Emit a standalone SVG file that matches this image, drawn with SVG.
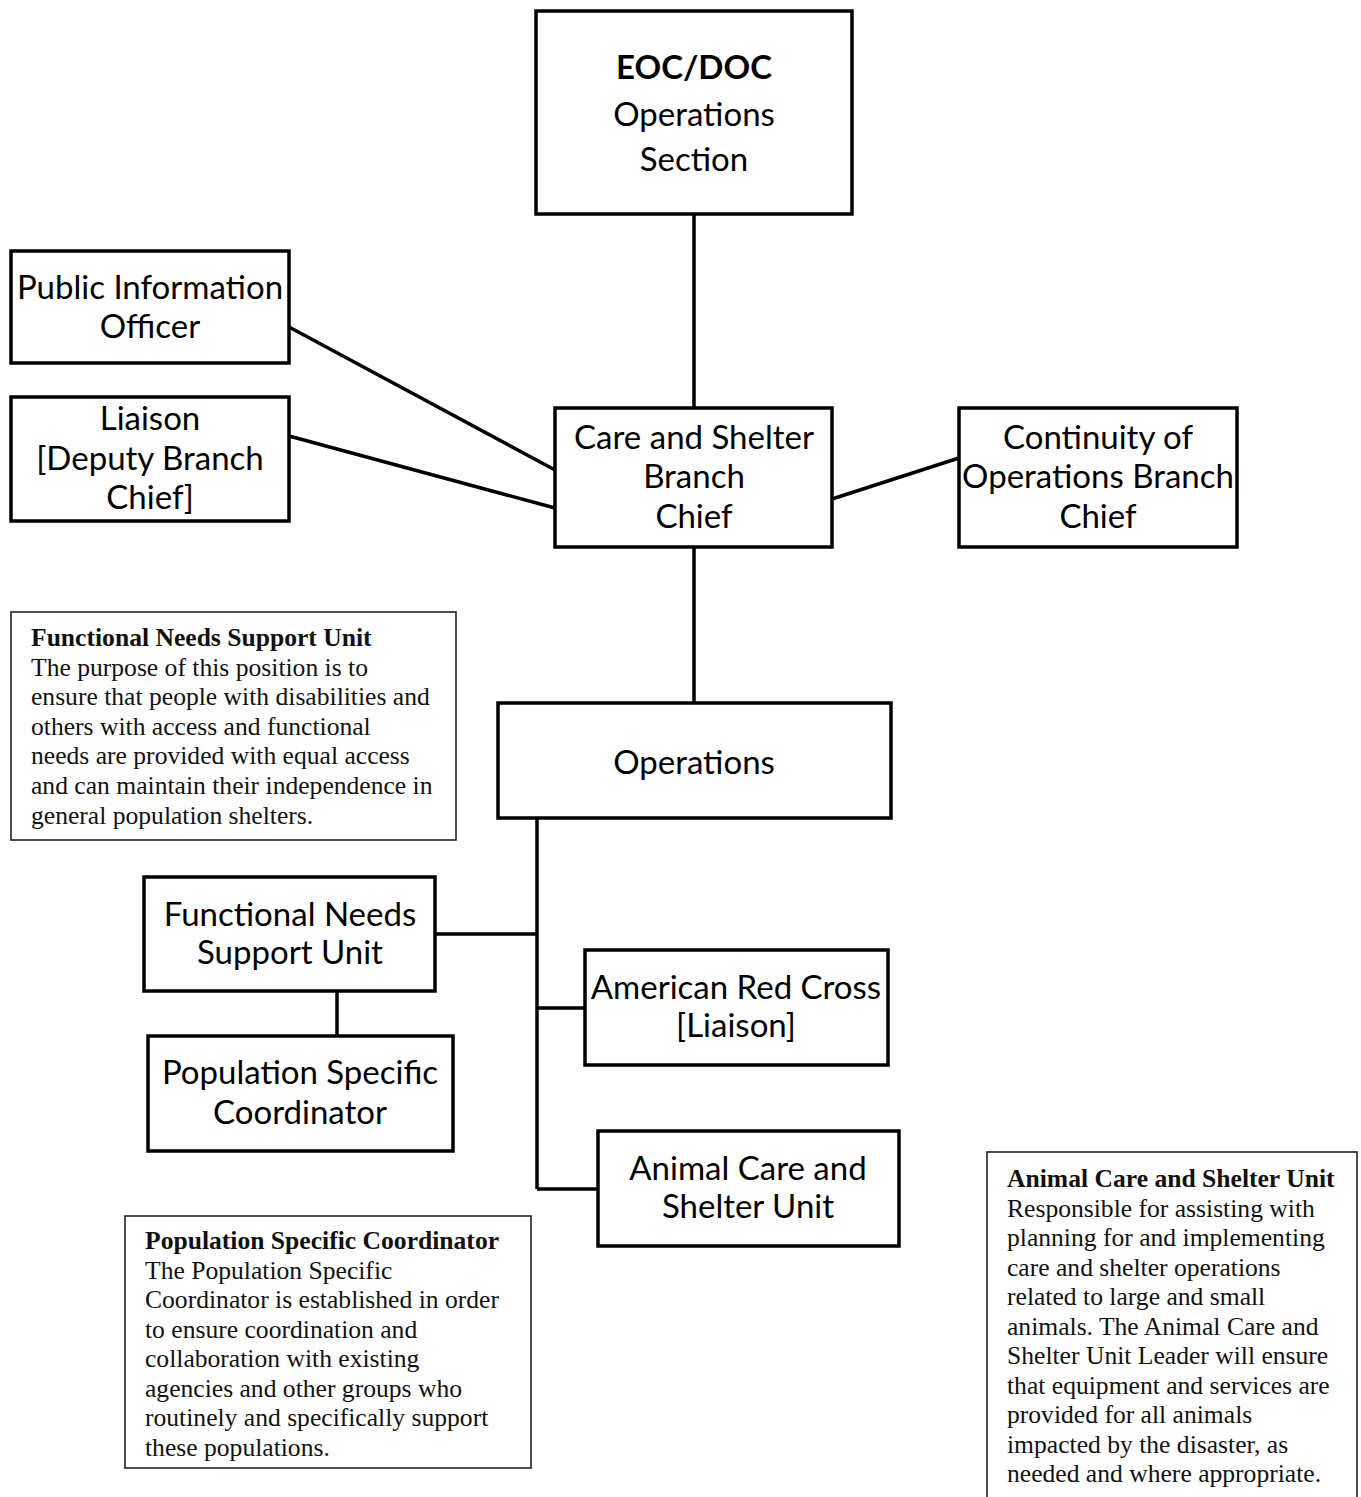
<svg xmlns="http://www.w3.org/2000/svg" width="1361" height="1497" viewBox="0 0 1361 1497">
<style>
.box{fill:#fff;stroke:#000;stroke-width:3.5}
.note{fill:#fff;stroke:#222;stroke-width:1.6}
.con{stroke:#000;stroke-width:3.5;fill:none}
.t{font-family:Lato,"Open Sans",sans-serif;font-size:33px;fill:#000;text-anchor:middle}
.n{font-family:"Liberation Serif","Times New Roman",serif;font-size:25.6px;fill:#111}
.nb{font-weight:bold}
</style>
<rect width="1361" height="1497" fill="#fff"/>
<g id="connectors">
<line class="con" x1="694" y1="214" x2="694" y2="408"/>
<line class="con" x1="289" y1="327" x2="555" y2="470"/>
<line class="con" x1="289" y1="436" x2="555" y2="508"/>
<line class="con" x1="832" y1="499" x2="959" y2="458"/>
<line class="con" x1="694" y1="547" x2="694" y2="703"/>
<line class="con" x1="537" y1="818" x2="537" y2="1189"/>
<line class="con" x1="435" y1="934" x2="537" y2="934"/>
<line class="con" x1="337" y1="991" x2="337" y2="1036"/>
<line class="con" x1="537" y1="1008" x2="585" y2="1008"/>
<line class="con" x1="537" y1="1189" x2="598" y2="1189"/>
</g>
<g id="eoc">
<rect class="box" x="536" y="11" width="316" height="203"/>
<text class="t" x="694" y="79" font-weight="bold" font-size="38">EOC/DOC</text>
<text class="t" x="694" y="126" font-size="41">Operations</text>
<text class="t" x="694" y="171" font-size="41">Section</text>
</g>
<g id="pio">
<rect class="box" x="11" y="251" width="278" height="112"/>
<text class="t" x="150" y="299">Public Information</text>
<text class="t" x="150" y="338">Officer</text>
</g>
<g id="liaison">
<rect class="box" x="11" y="397" width="278" height="124"/>
<text class="t" x="150" y="430">Liaison</text>
<text class="t" x="150" y="470">[Deputy Branch</text>
<text class="t" x="150" y="509">Chief]</text>
</g>
<g id="care">
<rect class="box" x="555" y="408" width="277" height="139"/>
<text class="t" x="694" y="449">Care and Shelter</text>
<text class="t" x="694" y="488">Branch</text>
<text class="t" x="694" y="528">Chief</text>
</g>
<g id="continuity">
<rect class="box" x="959" y="408" width="278" height="139"/>
<text class="t" x="1098" y="449">Continuity of</text>
<text class="t" x="1098" y="488">Operations Branch</text>
<text class="t" x="1098" y="528">Chief</text>
</g>
<g id="operations">
<rect class="box" x="498" y="703" width="393" height="115"/>
<text class="t" x="694" y="774" font-size="41">Operations</text>
</g>
<g id="fnsu">
<rect class="box" x="144" y="877" width="291" height="114"/>
<text class="t" x="290" y="926">Functional Needs</text>
<text class="t" x="290" y="964">Support Unit</text>
</g>
<g id="psc">
<rect class="box" x="148" y="1036" width="305" height="115"/>
<text class="t" x="300" y="1084">Population Specific</text>
<text class="t" x="300" y="1124">Coordinator</text>
</g>
<g id="arc">
<rect class="box" x="585" y="950" width="303" height="115"/>
<text class="t" x="736" y="999">American Red Cross</text>
<text class="t" x="736" y="1037">[Liaison]</text>
</g>
<g id="animal">
<rect class="box" x="598" y="1131" width="301" height="115"/>
<text class="t" x="748" y="1180">Animal Care and</text>
<text class="t" x="748" y="1218">Shelter Unit</text>
</g>
<g id="note-fnsu">
<rect class="note" x="11" y="612" width="445" height="228"/>
<text class="n" x="31" y="646"><tspan class="nb">Functional Needs Support Unit</tspan>
<tspan x="31" dy="29.6">The purpose of this position is to</tspan>
<tspan x="31" dy="29.6">ensure that people with disabilities and</tspan>
<tspan x="31" dy="29.6">others with access and functional</tspan>
<tspan x="31" dy="29.6">needs are provided with equal access</tspan>
<tspan x="31" dy="29.6">and can maintain their independence in</tspan>
<tspan x="31" dy="29.6">general population shelters.</tspan></text>
</g>
<g id="note-psc">
<rect class="note" x="125" y="1216" width="406" height="252"/>
<text class="n" x="145" y="1249"><tspan class="nb">Population Specific Coordinator</tspan>
<tspan x="145" dy="29.5">The Population Specific</tspan>
<tspan x="145" dy="29.5">Coordinator is established in order</tspan>
<tspan x="145" dy="29.5">to ensure coordination and</tspan>
<tspan x="145" dy="29.5">collaboration with existing</tspan>
<tspan x="145" dy="29.5">agencies and other groups who</tspan>
<tspan x="145" dy="29.5">routinely and specifically support</tspan>
<tspan x="145" dy="29.5">these populations.</tspan></text>
</g>
<g id="note-animal">
<rect class="note" x="987" y="1152" width="370" height="360"/>
<text class="n" x="1007" y="1187"><tspan class="nb">Animal Care and Shelter Unit</tspan>
<tspan x="1007" dy="29.5">Responsible for assisting with</tspan>
<tspan x="1007" dy="29.5">planning for and implementing</tspan>
<tspan x="1007" dy="29.5">care and shelter operations</tspan>
<tspan x="1007" dy="29.5">related to large and small</tspan>
<tspan x="1007" dy="29.5">animals. The Animal Care and</tspan>
<tspan x="1007" dy="29.5">Shelter Unit Leader will ensure</tspan>
<tspan x="1007" dy="29.5">that equipment and services are</tspan>
<tspan x="1007" dy="29.5">provided for all animals</tspan>
<tspan x="1007" dy="29.5">impacted by the disaster, as</tspan>
<tspan x="1007" dy="29.5">needed and where appropriate.</tspan></text>
</g>
</svg>
